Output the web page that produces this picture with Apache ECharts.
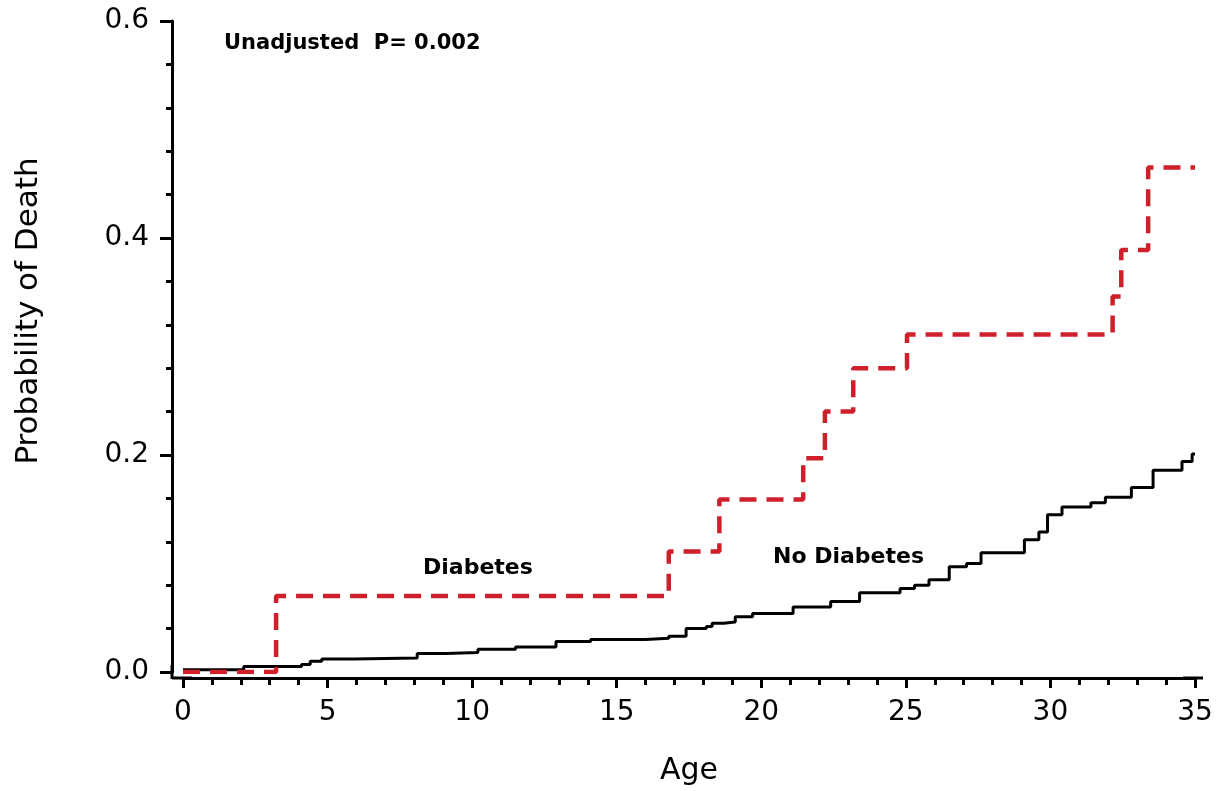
<!DOCTYPE html>
<html>
<head>
<meta charset="utf-8">
<script src="https://cdn.jsdelivr.net/npm/echarts@6/dist/echarts.min.js"></script>
<style>
html,body{margin:0;padding:0;background:#fff;}
#chart{width:1227px;height:791px;}
</style>
</head>
<body>
<div id="chart"></div>
<script>
// ---- data ----
const diabetesAge  = [0, 3.22, 16.8, 18.55, 21.45, 22.2, 23.18, 25.04, 32.15, 32.45, 33.38, 35.0];
const diabetesProb = [0, 0.070, 0.111, 0.159, 0.197, 0.240, 0.280, 0.311, 0.346, 0.389, 0.465, 0.465];

const noDiabetesAge  = [0, 2.1, 4.1, 4.4, 4.8, 5.9, 8.1, 9.1, 10.2, 11.5, 12.9, 14.1, 16.0, 16.8, 17.4, 18.1, 18.3, 18.7, 19.1, 19.7, 21.1, 22.4, 23.4, 24.8, 25.3, 25.8, 26.5, 27.1, 27.6, 29.1, 29.6, 29.9, 30.4, 31.4, 31.9, 32.8, 33.55, 34.55, 34.9, 35.0];
const noDiabetesProb = [0.002, 0.005, 0.007, 0.010, 0.012, 0.013, 0.017, 0.018, 0.021, 0.023, 0.028, 0.030, 0.031, 0.033, 0.040, 0.042, 0.045, 0.046, 0.051, 0.054, 0.060, 0.065, 0.073, 0.077, 0.080, 0.085, 0.097, 0.100, 0.110, 0.122, 0.129, 0.145, 0.152, 0.156, 0.161, 0.170, 0.186, 0.194, 0.201, 0.201];

const xTicks = { min: 0, max: 35, interval: 5 };
const yTicks = { min: 0, max: 0.6, interval: 0.2 };

const annotationText = 'Unadjusted  P= 0.002';
const seriesNames = ['Diabetes', 'No Diabetes'];
const xName = 'Age';
const yName = 'Probability of Death';

// ---- chart ----
const FONT = 'DejaVu Sans';
const chart = echarts.init(document.getElementById('chart'), null, { renderer: 'canvas' });

const zip = (a, b) => a.map((v, i) => [v, b[i]]);

chart.setOption({
  backgroundColor: '#ffffff',
  animation: false,
  grid: { left: 183, right: 32, top: 21, bottom: 119, containLabel: false, outerBoundsMode: 'none' },
  xAxis: {
    type: 'value',
    min: xTicks.min, max: xTicks.max, interval: xTicks.interval,
    offset: 6,
    name: xName,
    nameLocation: 'middle',
    nameGap: 78,
    nameTextStyle: { fontFamily: FONT, fontSize: 30, color: '#000' },
    axisLine: { show: true, onZero: false, lineStyle: { color: '#000', width: 3 },
      symbol: ['rect', 'rect'], symbolSize: [3, 20], symbolOffset: [-1, -2] },
    axisTick: { show: true, length: 10, lineStyle: { color: '#000', width: 3 } },
    minorTick: { show: true, splitNumber: 5, length: 7, lineStyle: { color: '#000', width: 3 } },
    axisLabel: { fontFamily: FONT, fontSize: 28, color: '#000', margin: 21 },
    splitLine: { show: false }
  },
  yAxis: {
    type: 'value',
    min: yTicks.min, max: yTicks.max, interval: yTicks.interval,
    offset: 11,
    axisLine: { show: true, onZero: false, lineStyle: { color: '#000', width: 3 },
      symbol: ['rect', 'none'], symbolSize: [3, 14] },
    axisTick: { show: true, length: 12, lineStyle: { color: '#000', width: 3 } },
    minorTick: { show: true, splitNumber: 5, length: 6, lineStyle: { color: '#000', width: 3 } },
    axisLabel: { fontFamily: FONT, fontSize: 28, color: '#000', margin: 23,
      formatter: v => v.toFixed(1) },
    splitLine: { show: false }
  },
  series: [
    {
      name: seriesNames[1],
      type: 'line',
      step: 'end',
      data: zip(noDiabetesAge, noDiabetesProb),
      showSymbol: false,
      symbol: 'none',
      lineStyle: { color: '#000', width: 3 },
      z: 2
    },
    {
      name: seriesNames[0],
      type: 'line',
      step: 'end',
      data: zip(diabetesAge, diabetesProb),
      showSymbol: false,
      symbol: 'none',
      lineStyle: { color: '#cf1f2b', width: 4.5, type: [17, 10] },
      z: 3
    }
  ],
  graphic: [
    { type: 'text', x: 29, y: 311, rotation: Math.PI / 2,
      style: { text: yName, fontFamily: FONT, fontSize: 31, fill: '#000', align: 'center', verticalAlign: 'middle' } },
    { type: 'text', left: 224, top: 33,
      style: { text: annotationText, fontFamily: FONT, fontSize: 21, fontWeight: 'bold', fill: '#000' } },
    { type: 'text', left: 423, top: 557,
      style: { text: seriesNames[0], fontFamily: FONT, fontSize: 22, fontWeight: 'bold', fill: '#000' } },
    { type: 'text', left: 773, top: 546,
      style: { text: seriesNames[1], fontFamily: FONT, fontSize: 22, fontWeight: 'bold', fill: '#000' } }
  ]
});
</script>
</body>
</html>
